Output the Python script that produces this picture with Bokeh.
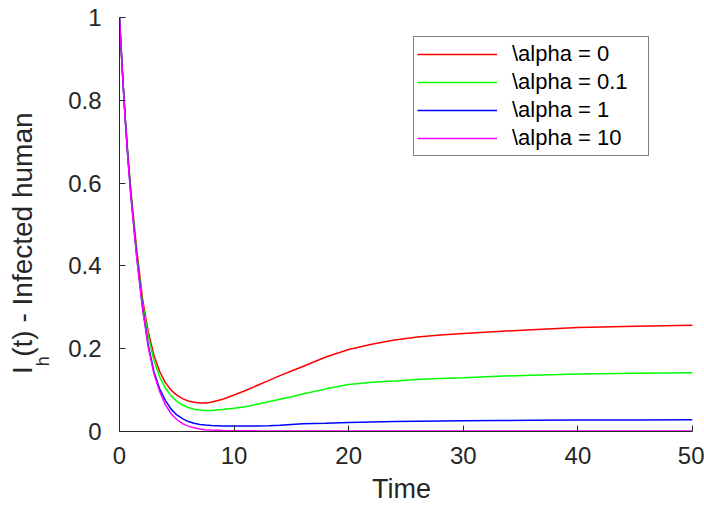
from bokeh.plotting import figure
from bokeh.models import Range1d, Legend, LegendItem, LinearAxis, FixedTicker
from bokeh.embed import file_html
from bokeh.resources import INLINE

# ---- data ----
time = [0, 0.25, 0.5, 0.75, 1, 1.5, 2, 2.5, 3, 3.5, 4, 4.5, 5, 5.5, 6, 6.5, 7, 7.5, 8,
        9, 10, 11, 12, 13, 14, 15, 16, 18, 20, 22, 24, 26, 28, 30, 33, 36, 40, 45, 50]

ih_alpha0 = [1, 0.87, 0.758, 0.662, 0.578, 0.44, 0.322, 0.242, 0.185, 0.145, 0.118, 0.1, 0.088,
             0.0795, 0.0738, 0.0705, 0.069, 0.069, 0.0705,
             0.078, 0.088, 0.099, 0.111, 0.123, 0.135, 0.146, 0.157, 0.18, 0.198, 0.211,
             0.221, 0.228, 0.233, 0.2365, 0.2415, 0.246, 0.2515, 0.254, 0.2565]

ih_alpha01 = [1, 0.87, 0.757, 0.66, 0.575, 0.432, 0.312, 0.232, 0.172, 0.132, 0.105, 0.086, 0.073,
              0.064, 0.058, 0.054, 0.052, 0.051, 0.051,
              0.053, 0.056, 0.060, 0.066, 0.072, 0.078, 0.084, 0.0905, 0.103, 0.1137, 0.119,
              0.122, 0.1255, 0.128, 0.13, 0.1335, 0.136, 0.1386, 0.1405, 0.142]

ih_alpha1 = [1, 0.87, 0.755, 0.655, 0.57, 0.425, 0.302, 0.21, 0.145, 0.103, 0.075, 0.054, 0.04,
             0.031, 0.024, 0.02, 0.017, 0.0155, 0.0145,
             0.0135, 0.013, 0.013, 0.0135, 0.014, 0.015, 0.017, 0.0185, 0.020, 0.0218, 0.023,
             0.024, 0.025, 0.0255, 0.0258, 0.0263, 0.027, 0.0275, 0.028, 0.0285]

ih_alpha10 = [1, 0.87, 0.752, 0.652, 0.565, 0.42, 0.3, 0.205, 0.14, 0.097, 0.065, 0.043, 0.029,
              0.019, 0.013, 0.009, 0.006, 0.0045, 0.0035,
              0.0025, 0.002, 0.0018, 0.0016, 0.0015, 0.0015, 0.0015, 0.0015, 0.0015, 0.0015, 0.0015,
              0.0015, 0.0015, 0.0015, 0.0015, 0.0015, 0.0015, 0.0015, 0.0015, 0.0015]

series_labels = ["\\alpha = 0", "\\alpha = 0.1", "\\alpha = 1", "\\alpha = 10"]
series_colors = ["#ff0000", "#00ff00", "#0000ff", "#ff00ff"]
x_ticks = [0, 10, 20, 30, 40, 50]
y_ticks = [0, 0.2, 0.4, 0.6, 0.8, 1]
x_title = "Time\u2004"
# y title "I_h(t) - Infected human": main text with a gap for the subscript,
# trailing em/three-per-em spaces shift the centred text down along the axis
y_title_main = "I\u2004(t) - Infected human\u2003\u2004"
y_title_sub = "h" + "\u2003" * 15 + "\u2009"

FONT = "Liberation Sans"
AXC = "#262626"

p = figure(width=704, height=506, output_backend="svg", toolbar_location=None,
           x_range=Range1d(0, 50), y_range=Range1d(0, 1),
           min_border_left=119, min_border_right=12, min_border_top=17, min_border_bottom=75)
p.outline_line_color = None
p.xgrid.visible = False
p.ygrid.visible = False
p.background_fill_color = "white"
p.border_fill_color = "white"

for ax, ticks in ((p.xaxis[0], x_ticks), (p.yaxis[0], y_ticks)):
    ax.ticker = FixedTicker(ticks=ticks)
    ax.minor_tick_line_color = None
    ax.major_tick_in = 6
    ax.major_tick_out = 0
    ax.axis_line_color = AXC
    ax.major_tick_line_color = AXC
    ax.major_label_text_color = AXC
    ax.major_label_text_font = FONT
    ax.major_label_text_font_size = "24px"
p.xaxis[0].major_label_standoff = 15
p.yaxis[0].major_label_standoff = 18
p.xaxis[0].major_label_overrides = {t: str(t) for t in x_ticks}
p.yaxis[0].major_label_overrides = {0: "0", 0.2: "0.2", 0.4: "0.4", 0.6: "0.6", 0.8: "0.8", 1: "1"}

p.xaxis[0].axis_label = x_title
p.xaxis[0].axis_label_text_font = FONT
p.xaxis[0].axis_label_text_font_size = "27px"
p.xaxis[0].axis_label_text_font_style = "normal"
p.xaxis[0].axis_label_text_color = AXC
p.xaxis[0].axis_label_standoff = 7


def title_axis(text, size, standoff):
    ax = LinearAxis(ticker=FixedTicker(ticks=[]),
                    axis_line_color=None, major_tick_line_color=None,
                    minor_tick_line_color=None, major_label_text_font_size="0px",
                    major_label_standoff=0, major_tick_out=0, major_tick_in=0,
                    axis_label=text, axis_label_text_font=FONT,
                    axis_label_text_font_size=size, axis_label_text_font_style="normal",
                    axis_label_text_color=AXC, axis_label_standoff=standoff)
    return ax


# subscript "h" (closer to the frame), then the main y title further out
p.add_layout(title_axis(y_title_sub, "18px", 13), "left")
p.add_layout(title_axis(y_title_main, "28px", -8), "left")

renderers = []
for ys, c in zip([ih_alpha0, ih_alpha01, ih_alpha1, ih_alpha10], series_colors):
    r = p.line(time, ys, line_color=c, line_width=1.5)
    renderers.append(r)

legend = Legend(items=[LegendItem(label=l, renderers=[r]) for l, r in zip(series_labels, renderers)],
                location=(294, 275), orientation="vertical",
                label_text_font=FONT, label_text_font_size="22px", label_text_color="#000000",
                label_height=28, glyph_height=28, glyph_width=80, label_standoff=15,
                label_width=133, spacing=0, padding=3, margin=0,
                border_line_color="#000000", border_line_width=1,
                background_fill_color="white", background_fill_alpha=1)
p.add_layout(legend)

open("out.html", "w").write(file_html(p, INLINE))
